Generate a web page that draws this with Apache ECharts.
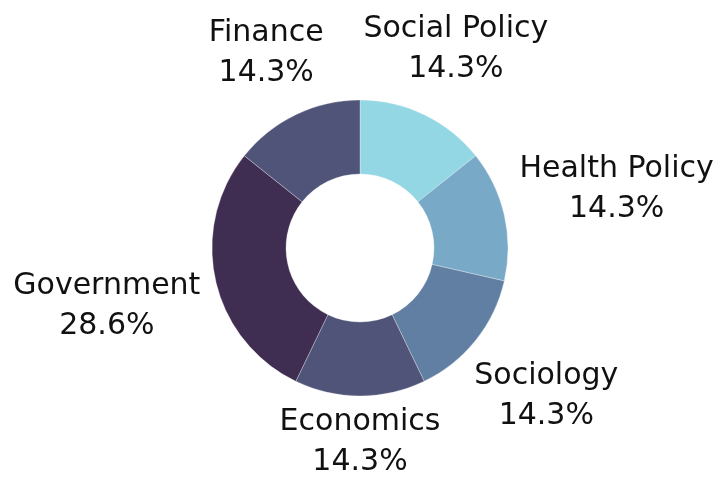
<!DOCTYPE html>
<html>
<head>
<meta charset="utf-8">
<script src="https://cdn.jsdelivr.net/npm/echarts@6/dist/echarts.min.js"></script>
<style>
    html, body { margin: 0; padding: 0; background: #fff; }
    #main { width: 724px; height: 480px; }
</style>
</head>
<body>
<div id="main"></div>
<script>
// data
var fields = ['Social Policy', 'Health Policy', 'Sociology', 'Economics', 'Government', 'Finance'];
var counts = [1, 1, 1, 1, 2, 1];
var sliceColors = ['#93D6E4', '#78AAC8', '#617FA2', '#4F5478', '#3F2D52', '#4F5478'];

var cx = 360, cy = 248, rIn = 74, rOut = 148;
var gap = 13;      // space between ring and label box
var minTop = 9;    // labels keep inside the top edge

var total = 0;
for (var i = 0; i < counts.length; i++) total += counts[i];

// middle angle of each slice, clockwise from 12 o'clock
var midAngles = [];
var acc = 0;
for (var i = 0; i < counts.length; i++) {
    midAngles.push((acc + counts[i] / 2) / total * 2 * Math.PI);
    acc += counts[i];
}

var pieData = [];
for (var i = 0; i < fields.length; i++) {
    pieData.push({ name: fields[i], value: counts[i], itemStyle: { color: sliceColors[i] } });
}

var myChart = echarts.init(document.getElementById('main'));

var option = {
    backgroundColor: '#fff',
    animation: false,
    series: [{
        type: 'pie',
        center: [cx, cy],
        radius: [rIn, rOut],
        startAngle: 90,
        clockwise: true,
        avoidLabelOverlap: false,
        data: pieData,
        itemStyle: {
            borderColor: 'rgba(255,255,255,0.5)',
            borderWidth: 0.6
        },
        label: {
            show: true,
            position: 'outside',
            fontFamily: 'DejaVu Sans',
            fontSize: 30,
            lineHeight: 40,
            color: '#111',
            formatter: function (p) {
                return p.name + '\n' + (p.value / total * 100).toFixed(1) + '%';
            }
        },
        labelLine: { show: false },
        labelLayout: function (p) {
            var a = midAngles[p.dataIndex];
            var dx = Math.sin(a), dy = -Math.cos(a);
            var w = p.labelRect.width, h = p.labelRect.height;
            var d = rOut + gap + Math.abs(dx) * w / 2 + Math.abs(dy) * 0.84 * h / 2;
            if (dy < 0 && cy + dy * d - h / 2 < minTop) {
                d = (cy - h / 2 - minTop) / -dy;
            }
            return {
                x: cx + dx * d,
                y: cy + dy * d,
                align: 'center',
                verticalAlign: 'middle'
            };
        },
        emphasis: { disabled: true }
    }]
};

myChart.setOption(option);
</script>
</body>
</html>
